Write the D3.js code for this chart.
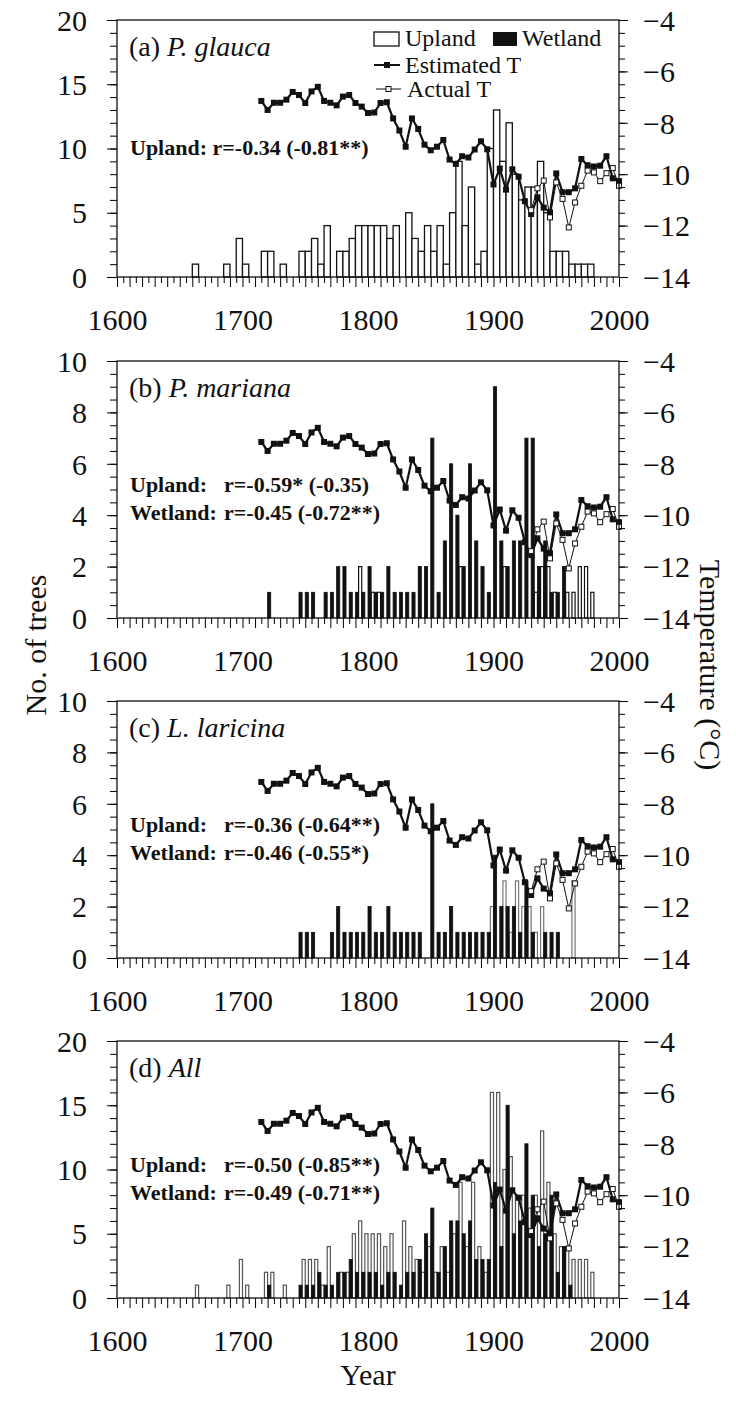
<!DOCTYPE html>
<html>
<head>
<meta charset="utf-8">
<script src="https://cdn.jsdelivr.net/npm/d3@7"></script>
<style>
  body { margin: 0; background: #fff; }
  svg { display: block; }
  text { font-family: "Liberation Serif", "Times New Roman", serif; fill: #111; }
</style>
</head>
<body>
<svg id="chart" width="736" height="1407"></svg>
<script>
// 5-year recruitment bins (bin start year)
const binYears = [
  1655,1660,1665,1670,1675,1680,1685,1690,1695,1700,
  1705,1710,1715,1720,1725,1730,1735,1740,1745,1750,
  1755,1760,1765,1770,1775,1780,1785,1790,1795,1800,
  1805,1810,1815,1820,1825,1830,1835,1840,1845,1850,
  1855,1860,1865,1870,1875,1880,1885,1890,1895,1900,
  1905,1910,1915,1920,1925,1930,1935,1940,1945,1950,
  1955,1960,1965,1970,1975,1980
];

const glaucaUpland = [
  0,1,0,0,0,0,1,0,3,1,
  0,0,2,2,0,1,0,0,2,2,
  3,1,4,0,2,2,3,4,4,4,
  4,4,3,4,0,5,3,2,4,2,
  4,1,5,9,4,7,1,2,10,13,
  9,12,8,6,7,7,9,5,2,2,
  2,1,1,1,1,0
];

const marianaUpland = [
  0,0,0,0,0,0,0,0,0,0,
  0,0,0,0,0,0,0,0,0,0,
  0,0,0,0,0,0,0,2,0,1,
  1,0,0,0,0,0,0,0,0,0,
  0,0,0,2,0,0,0,0,0,0,
  2,0,0,0,0,1,2,2,1,0,
  1,1,2,2,1,0
];
const marianaWetland = [
  0,0,0,0,0,0,0,0,0,0,
  0,0,0,1,0,0,0,0,1,1,
  1,0,1,1,2,2,1,1,1,2,
  1,1,2,1,1,1,1,2,2,7,
  1,3,6,4,2,6,3,2,1,9,
  3,2,3,3,7,7,2,3,1,1,
  2,0,0,0,0,0
];

const laricinaUpland = [
  0,0,0,0,0,0,0,0,0,0,
  0,0,0,0,0,0,0,0,0,0,
  0,0,0,0,0,0,0,0,0,0,
  0,0,0,0,0,0,0,0,0,0,
  0,0,0,0,0,0,0,0,2,0,
  3,1,3,2,2,1,2,0,0,0,
  0,3,0,0,0,0
];
const laricinaWetland = [
  0,0,0,0,0,0,0,0,0,0,
  0,0,0,0,0,0,0,0,1,1,
  1,0,0,1,2,1,1,1,1,2,
  1,1,2,1,1,1,1,1,0,6,
  1,1,2,1,1,1,1,1,1,4,
  2,2,2,1,3,1,0,1,1,1,
  0,0,0,0,0,0
];

const allUpland = [
  0,1,0,0,0,0,1,0,3,1,
  0,0,2,2,0,1,0,0,3,3,
  3,1,4,0,2,2,5,6,5,5,
  5,4,5,0,6,4,3,2,4,2,
  4,2,5,9,4,9,4,2,16,16,
  10,11,8,8,7,8,13,9,5,4,
  4,3,3,3,2,0
];
const allWetland = [
  0,0,0,0,0,0,0,0,0,0,
  0,0,0,1,0,0,0,0,1,1,
  1,2,1,1,2,2,3,2,2,2,
  2,1,2,2,1,2,2,3,5,7,
  2,4,6,6,5,6,3,3,3,9,
  4,15,5,6,12,8,4,5,8,2,
  4,1,0,0,0,0
];

// Temperature reconstruction and instrumental record
const tempYears = [
  1715,1720,1725,1730,1735,1740,1745,1750,1755,1760,
  1765,1770,1775,1780,1785,1790,1795,1800,1805,1810,
  1815,1820,1825,1830,1835,1840,1845,1850,1855,1860,
  1865,1870,1875,1880,1885,1890,1895,1900,1905,1910,
  1915,1920,1925,1930,1935,1940,1945,1950,1955,1960,
  1965,1970,1975,1980,1985,1990,1995,2000
];
const estimatedT = [
  -7.15,-7.50,-7.22,-7.22,-7.10,-6.80,-6.92,-7.23,-6.78,-6.60,
  -7.15,-7.22,-7.32,-6.98,-6.92,-7.23,-7.37,-7.62,-7.60,-7.23,
  -7.20,-7.83,-8.30,-8.93,-7.83,-8.24,-8.85,-9.07,-8.93,-8.67,
  -9.43,-9.60,-9.30,-9.35,-9.04,-8.72,-9.03,-10.40,-9.78,-10.60,
  -9.81,-10.10,-11.05,-11.55,-10.90,-11.30,-11.48,-9.97,-10.70,-10.70,
  -10.55,-9.41,-9.65,-9.70,-9.67,-9.30,-10.16,-10.27
];
const actualYears = [1930,1935,1940,1945,1950,1955,1960,1965,1970,1975,1980,1985,1990,1995,2000];
const actualT = [-11.40,-10.55,-10.25,-11.68,-10.32,-10.96,-12.07,-11.10,-10.45,-9.86,-9.93,-10.27,-9.96,-9.76,-10.45];

// Axis tick values
const yearTicks = [1600,1700,1800,1900,2000];
const countTicks20 = [0,5,10,15,20];
const countTicks10 = [0,2,4,6,8,10];
const tempTicks = [-14,-12,-10,-8,-6,-4];

const panels = [
  { tag: "(a) ", name: "P. glauca", top: 20, yMax: 20, ticks: countTicks20, minorStep: 1,
    upland: glaucaUpland, wetland: null,
    stats: [["Upland: r=-0.34 (-0.81**)"]], legend: true },
  { tag: "(b) ", name: "P. mariana", top: 361, yMax: 10, ticks: countTicks10, minorStep: 0.5,
    upland: marianaUpland, wetland: marianaWetland,
    stats: [["Upland:", "r=-0.59* (-0.35)"], ["Wetland:", "r=-0.45 (-0.72**)"]] },
  { tag: "(c) ", name: "L. laricina", top: 701, yMax: 10, ticks: countTicks10, minorStep: 0.5,
    upland: laricinaUpland, wetland: laricinaWetland, uplandStroke: "#777",
    stats: [["Upland:", "r=-0.36 (-0.64**)"], ["Wetland:", "r=-0.46 (-0.55*)"]] },
  { tag: "(d) ", name: "All", top: 1041, yMax: 20, ticks: countTicks20, minorStep: 1,
    upland: allUpland, wetland: allWetland, uplandStroke: "#555",
    stats: [["Upland:", "r=-0.50 (-0.85**)"], ["Wetland:", "r=-0.49 (-0.71**)"]] }
];

const svg = d3.select("#chart");
const plotLeft = 117, plotRight = 619, plotH = 257;
const x = d3.scaleLinear().domain([1600, 2000]).range([plotLeft, plotRight]);
const BIN = 5;

panels.forEach(p => {
  const bottom = p.top + plotH;
  const y = d3.scaleLinear().domain([0, p.yMax]).range([bottom, p.top]);
  const yT = d3.scaleLinear().domain([-14, -4]).range([bottom, p.top]);
  const g = svg.append("g");

  // bars
  const bars = g.append("g");
  if (!p.wetland) {
    bars.selectAll("rect").data(binYears.map((yr, i) => ({ yr, v: p.upland[i] })).filter(d => d.v > 0))
      .join("rect")
      .attr("x", d => x(d.yr))
      .attr("width", d => x(d.yr + BIN) - x(d.yr))
      .attr("y", d => y(d.v))
      .attr("height", d => y(0) - y(d.v))
      .attr("fill", "#fff").attr("stroke", "#111").attr("stroke-width", 1.3);
  } else {
    bars.selectAll("rect.up").data(binYears.map((yr, i) => ({ yr, v: p.upland[i] })).filter(d => d.v > 0))
      .join("rect").attr("class", "up")
      .attr("x", d => x(d.yr + BIN / 2))
      .attr("width", d => x(d.yr + BIN) - x(d.yr + BIN / 2))
      .attr("y", d => y(d.v))
      .attr("height", d => y(0) - y(d.v))
      .attr("fill", "#fff").attr("stroke", p.uplandStroke || "#111").attr("stroke-width", 1.2);
    bars.selectAll("rect.wet").data(binYears.map((yr, i) => ({ yr, v: p.wetland[i] })).filter(d => d.v > 0))
      .join("rect").attr("class", "wet")
      .attr("x", d => x(d.yr))
      .attr("width", d => x(d.yr + BIN / 2) - x(d.yr))
      .attr("y", d => y(d.v))
      .attr("height", d => y(0) - y(d.v))
      .attr("fill", "#111").attr("stroke", "#111").attr("stroke-width", 0.8);
  }

  // temperature lines
  const estPts = tempYears.map((yr, i) => [yr, estimatedT[i]]);
  const actPts = actualYears.map((yr, i) => [yr, actualT[i]]);
  const line = d3.line().x(d => x(d[0])).y(d => yT(d[1]));
  g.append("path").attr("d", line(actPts)).attr("fill", "none").attr("stroke", "#111").attr("stroke-width", 1);
  g.append("path").attr("d", line(estPts)).attr("fill", "none").attr("stroke", "#111").attr("stroke-width", 2.2);
  g.selectAll("rect.est").data(estPts).join("rect").attr("class", "est")
    .attr("x", d => x(d[0]) - 3).attr("y", d => yT(d[1]) - 3)
    .attr("width", 6).attr("height", 6).attr("fill", "#111");
  g.selectAll("rect.act").data(actPts).join("rect").attr("class", "act")
    .attr("x", d => x(d[0]) - 2.5).attr("y", d => yT(d[1]) - 2.5)
    .attr("width", 5).attr("height", 5).attr("fill", "#fff").attr("stroke", "#111").attr("stroke-width", 1);

  // frame
  g.append("rect").attr("x", plotLeft).attr("y", p.top).attr("width", plotRight - plotLeft).attr("height", plotH)
    .attr("fill", "none").attr("stroke", "#111").attr("stroke-width", 1.3);

  // left count axis
  const minorVals = d3.range(0, p.yMax + 0.001, p.minorStep);
  g.append("g").attr("transform", `translate(${plotLeft},0)`)
    .call(d3.axisLeft(y).tickValues(minorVals).tickSize(7).tickFormat("").tickSizeOuter(0))
    .call(a => a.select(".domain").remove());
  g.append("g").attr("transform", `translate(${plotLeft},0)`)
    .call(d3.axisLeft(y).tickValues(p.ticks).tickSize(10).tickPadding(20).tickSizeOuter(0))
    .call(a => a.select(".domain").remove())
    .call(a => a.selectAll("text").style("font-size", "30px").attr("dy", "0.34em"));

  // right temperature axis
  g.append("g").attr("transform", `translate(${plotRight},0)`)
    .call(d3.axisRight(yT).tickValues(d3.range(-14, -3.99, 0.5)).tickSize(6).tickFormat("").tickSizeOuter(0))
    .call(a => a.select(".domain").remove());
  g.append("g").attr("transform", `translate(${plotRight},0)`)
    .call(d3.axisRight(yT).tickValues(tempTicks).tickSize(9).tickPadding(15).tickSizeOuter(0))
    .call(a => a.select(".domain").remove())
    .call(a => a.selectAll("text").style("font-size", "30px").attr("dy", "0.34em"));

  // bottom year axis
  g.append("g").attr("transform", `translate(0,${bottom})`)
    .call(d3.axisBottom(x).tickValues(d3.range(1605, 2000, 10)).tickSize(6).tickFormat("").tickSizeOuter(0))
    .call(a => a.select(".domain").remove());
  g.append("g").attr("transform", `translate(0,${bottom})`)
    .call(d3.axisBottom(x).tickValues(d3.range(1600, 2001, 10)).tickSize(10).tickFormat("").tickSizeOuter(0))
    .call(a => a.select(".domain").remove());
  g.append("g").attr("transform", `translate(0,${bottom})`)
    .call(d3.axisBottom(x).tickValues(yearTicks).tickSize(0).tickPadding(32).tickFormat(d3.format("d")))
    .call(a => a.select(".domain").remove())
    .call(a => a.selectAll("text").style("font-size", "30px"));

  // panel title
  const title = g.append("text").attr("x", 129).attr("y", p.top + 36).style("font-size", "28px");
  title.append("tspan").text(p.tag);
  title.append("tspan").style("font-style", "italic").text(p.name);

  // correlation notes
  p.stats.forEach((s, i) => {
    const yy = (p.stats.length === 1 ? p.top + 135 : p.top + 131 + i * 28);
    const t = g.append("text").attr("y", yy).style("font-size", "22px").style("font-weight", "bold");
    t.append("tspan").attr("x", 130).text(s[0]);
    if (s[1]) t.append("tspan").attr("x", 224).text(s[1]);
  });

  if (p.legend) {
    const L = g.append("g");
    L.append("rect").attr("x", 374).attr("y", 32).attr("width", 25).attr("height", 14)
      .attr("fill", "#fff").attr("stroke", "#111").attr("stroke-width", 1.3);
    L.append("text").attr("x", 405).attr("y", 46).style("font-size", "24px").text("Upland");
    L.append("rect").attr("x", 493).attr("y", 32).attr("width", 24).attr("height", 14).attr("fill", "#111");
    L.append("text").attr("x", 522).attr("y", 46).style("font-size", "24px").text("Wetland");
    L.append("line").attr("x1", 374).attr("x2", 400).attr("y1", 65).attr("y2", 65).attr("stroke", "#111").attr("stroke-width", 2);
    L.append("rect").attr("x", 384).attr("y", 62).attr("width", 6).attr("height", 6).attr("fill", "#111");
    L.append("text").attr("x", 405).attr("y", 73).style("font-size", "24px").text("Estimated T");
    L.append("line").attr("x1", 376).attr("x2", 401).attr("y1", 89).attr("y2", 89).attr("stroke", "#111").attr("stroke-width", 1);
    L.append("rect").attr("x", 386).attr("y", 86.5).attr("width", 5).attr("height", 5)
      .attr("fill", "#fff").attr("stroke", "#111").attr("stroke-width", 1);
    L.append("text").attr("x", 407).attr("y", 97).style("font-size", "24px").text("Actual T");
  }
});

// axis titles
svg.append("text").attr("transform", "translate(46,645) rotate(-90)").attr("text-anchor", "middle")
  .style("font-size", "30px").text("No. of trees");
svg.append("text").attr("transform", "translate(700,665) rotate(90)").attr("text-anchor", "middle")
  .style("font-size", "30px").text("Temperature (°C)");
svg.append("text").attr("x", 368).attr("y", 1385).attr("text-anchor", "middle")
  .style("font-size", "30px").text("Year");
</script>
</body>
</html>
